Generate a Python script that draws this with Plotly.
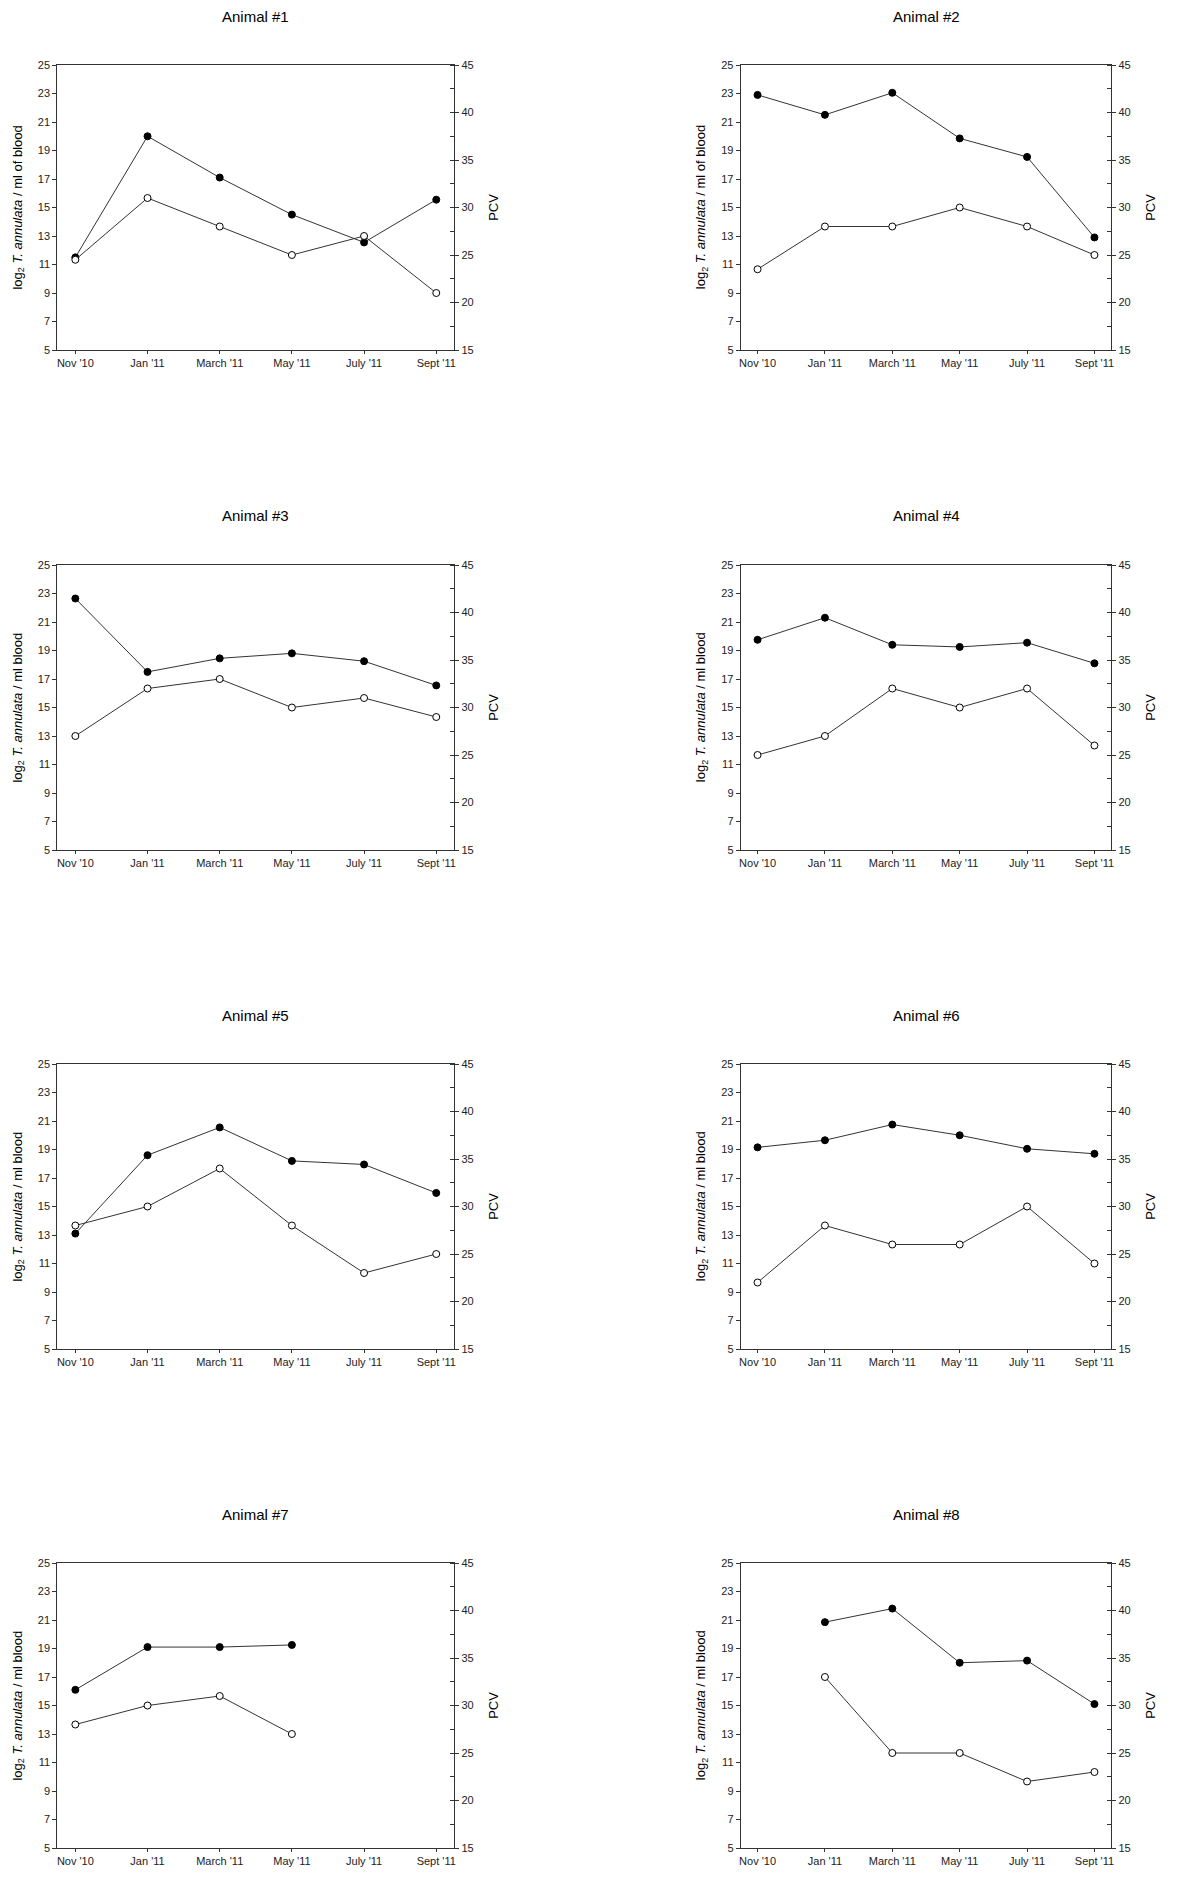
import plotly.graph_objects as go

months = ["Nov '10", "Jan '11", "March '11", "May '11", "July '11", "Sept '11"]
titles = ["Animal #1", "Animal #2", "Animal #3", "Animal #4",
          "Animal #5", "Animal #6", "Animal #7", "Animal #8"]

# log2 T. annulata / ml blood (filled circles, left axis)
parasite_1 = [11.5, 20.0, 17.1, 14.5, 12.55, 15.55]
parasite_2 = [22.9, 21.5, 23.05, 19.85, 18.55, 12.9]
parasite_3 = [22.65, 17.5, 18.45, 18.8, 18.25, 16.55]
parasite_4 = [19.75, 21.3, 19.4, 19.25, 19.55, 18.1]
parasite_5 = [13.1, 18.6, 20.55, 18.2, 17.95, 15.95]
parasite_6 = [19.15, 19.65, 20.75, 20.0, 19.05, 18.7]
parasite_7 = [16.1, 19.1, 19.1, 19.25, None, None]
parasite_8 = [None, 20.85, 21.8, 18.0, 18.15, 15.1]

# PCV (open circles, right axis)
pcv_1 = [24.5, 31, 28, 25, 27, 21]
pcv_2 = [23.5, 28, 28, 30, 28, 25]
pcv_3 = [27, 32, 33, 30, 31, 29]
pcv_4 = [25, 27, 32, 30, 32, 26]
pcv_5 = [28, 30, 34, 28, 23, 25]
pcv_6 = [22, 28, 26, 26, 30, 24]
pcv_7 = [28, 30, 31, 27, None, None]
pcv_8 = [None, 33, 25, 25, 22, 23]

parasites = [parasite_1, parasite_2, parasite_3, parasite_4,
             parasite_5, parasite_6, parasite_7, parasite_8]
pcvs = [pcv_1, pcv_2, pcv_3, pcv_4, pcv_5, pcv_6, pcv_7, pcv_8]

left_ticks = [5, 7, 9, 11, 13, 15, 17, 19, 21, 23, 25]
right_ticks = [15, 20, 25, 30, 35, 40, 45]

# page body has an 8px margin; size the figure so the page is 1200x1882
BODY = 8
W, H = 1200 - 2 * BODY, 1882 - 2 * BODY


def px(sx):
    return (sx - BODY) / W


def py(sy):
    return 1 - (sy - BODY) / H


col_x = [(57.3, 454.3), (740.7, 1111.3)]
row_top = [65, 565, 1064, 1563]
plot_h = 285
ytitle_off = [41, 39]
pcv_off = 39

FONT = "Liberation Sans, Arial, Helvetica, sans-serif"
INK = "#222222"
AX = "#333333"

fig = go.Figure()
layout = dict(
    width=W, height=H,
    margin=dict(l=0, r=0, t=0, b=0, pad=0, autoexpand=False),
    paper_bgcolor="white", plot_bgcolor="white",
    showlegend=False,
    font=dict(family=FONT, color=INK, size=11),
)
annotations = []

for i in range(8):
    col, row = i % 2, i // 2
    x0, x1 = col_x[col]
    top = row_top[row]
    bot = top + plot_h
    xd = [px(x0), px(x1)]
    yd = [py(bot), py(top)]
    xn = i + 1
    yl = 2 * i + 1
    yr = 2 * i + 2

    layout[f"xaxis{xn}"] = dict(
        domain=xd, anchor=f"y{yl}", type="category", automargin=False,
        categoryorder="array", categoryarray=months,
        range=[-0.25, 5.25], showgrid=False, zeroline=False,
        showline=True, linecolor=AX, linewidth=1, mirror=True,
        ticks="outside", ticklen=3, tickcolor=AX, tickwidth=1,
        tickfont=dict(size=11, color=INK, family=FONT),
    )
    layout[f"yaxis{yl}"] = dict(
        domain=yd, anchor=f"x{xn}", range=[5, 25], automargin=False,
        tickvals=left_ticks, showgrid=False, zeroline=False,
        showline=True, linecolor=AX, linewidth=1,
        ticks="outside", ticklen=4, tickcolor=AX, tickwidth=1,
        tickfont=dict(size=11, color=INK, family=FONT),
    )
    layout[f"yaxis{yr}"] = dict(
        overlaying=f"y{yl}", anchor=f"x{xn}", side="right", automargin=False,
        range=[15, 45], tickvals=right_ticks, showgrid=False, zeroline=False,
        showline=True, linecolor=AX, linewidth=1,
        ticks="outside", ticklen=4, tickcolor=AX, tickwidth=1,
        minor=dict(dtick=2.5, tick0=15, ticks="inside", ticklen=4,
                   tickcolor=AX, tickwidth=1, showgrid=False),
        tickfont=dict(size=11, color=INK, family=FONT),
    )

    fig.add_trace(go.Scatter(
        x=months, y=parasites[i], xaxis=f"x{xn}", yaxis=f"y{yl}",
        mode="lines+markers",
        line=dict(color=AX, width=1),
        marker=dict(symbol="circle", size=7, color="black",
                    line=dict(color="black", width=1)),
        name="log2 T. annulata",
    ))
    fig.add_trace(go.Scatter(
        x=months, y=pcvs[i], xaxis=f"x{xn}", yaxis=f"y{yr}",
        mode="lines+markers",
        line=dict(color=AX, width=1),
        marker=dict(symbol="circle", size=7, color="white",
                    line=dict(color="black", width=1)),
        name="PCV",
    ))

    cx = (x0 + x1) / 2
    annotations.append(dict(
        text=titles[i], x=px(cx), y=py(top - 49),
        xref="paper", yref="paper", xanchor="center", yanchor="middle",
        showarrow=False, font=dict(size=15, color="black", family=FONT),
    ))
    unit = "ml of blood" if i < 2 else "ml blood"
    annotations.append(dict(
        text=f"log<sub>2</sub> <i>T. annulata</i> / {unit}",
        x=max(px(x0 - ytitle_off[col]), 0.0085), y=py(top + plot_h / 2),
        xref="paper", yref="paper", xanchor="center", yanchor="middle",
        textangle=-90, showarrow=False, borderpad=0,
        font=dict(size=13, color="black", family=FONT),
    ))
    annotations.append(dict(
        text="PCV", x=px(x1 + pcv_off), y=py(top + plot_h / 2),
        xref="paper", yref="paper", xanchor="center", yanchor="middle",
        textangle=-90, showarrow=False,
        font=dict(size=13, color="black", family=FONT),
    ))

layout["annotations"] = annotations
fig.update_layout(**layout)
fig.write_html("out.html")
